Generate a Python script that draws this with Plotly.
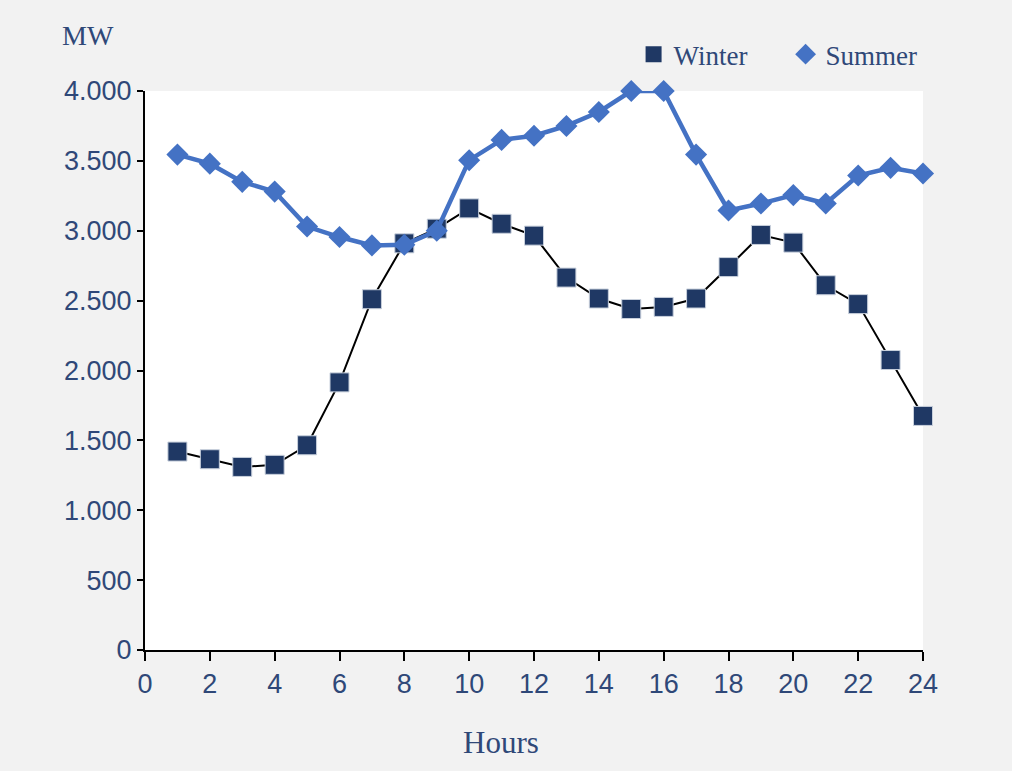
import plotly.graph_objects as go

hours = list(range(1, 25))
winter = [1420, 1365, 1310, 1325, 1465, 1915, 2510, 2910, 3015, 3160, 3050, 2965,
          2665, 2515, 2440, 2455, 2515, 2740, 2970, 2915, 2610, 2475, 2075, 1675]
summer = [3545, 3480, 3350, 3280, 3030, 2955, 2895, 2900, 3000, 3505, 3650, 3680,
          3750, 3850, 4000, 4000, 3545, 3145, 3195, 3255, 3195, 3395, 3450, 3410]

navy = "#1f3864"
blue = "#4472c4"
txt = "#2f4878"
tick_font = dict(family="Liberation Sans Narrow, Arial Narrow, Liberation Sans, sans-serif", size=27, color=txt)
serif = "Liberation Serif, Times New Roman, serif"

fig = go.Figure()
fig.add_trace(go.Scatter(x=hours, y=winter, mode="lines+markers", name="Winter",
                         line=dict(color="black", width=2), cliponaxis=False,
                         marker=dict(symbol="square", size=19, color=navy,
                                     line=dict(color="#c8d0dc", width=1)),
                         showlegend=False))
fig.add_trace(go.Scatter(x=hours, y=summer, mode="lines+markers", name="Summer",
                         line=dict(color=blue, width=4.5), cliponaxis=False,
                         marker=dict(symbol="diamond", size=17, color=blue),
                         showlegend=False))
# legend entries (markers only)
fig.add_trace(go.Scatter(x=[None], y=[None], mode="markers", name="Winter",
                         marker=dict(symbol="square", size=19, color=navy)))
fig.add_trace(go.Scatter(x=[None], y=[None], mode="markers", name="Summer",
                         marker=dict(symbol="diamond", size=17, color=blue)))

fig.update_layout(
    width=1012, height=771,
    margin=dict(l=145, r=89, t=91, b=121),
    paper_bgcolor="#f2f2f2", plot_bgcolor="white",
    separators=",.",
    legend=dict(orientation="h", x=0.628, y=1.065, xanchor="left", yanchor="middle",
                font=dict(family=serif, size=27, color=txt), bgcolor="rgba(0,0,0,0)",
                itemwidth=30, entrywidth=107),
    xaxis=dict(range=[0, 24], dtick=2, tick0=0, showgrid=False, zeroline=False,
               showline=True, linecolor="black", linewidth=2,
               ticks="outside", ticklen=9, tickwidth=2, tickcolor="black",
               tickfont=tick_font),
    yaxis=dict(range=[0, 4000], dtick=500, tick0=0, showgrid=False, zeroline=False,
               showline=True, linecolor="black", linewidth=2,
               ticks="outside", ticklen=6, tickwidth=2, tickcolor="black",
               tickformat=",d", tickfont=tick_font),
    annotations=[
        dict(text="MW", xref="paper", yref="paper", x=-0.073, y=1.1,
             xanchor="center", yanchor="middle", showarrow=False,
             font=dict(family=serif, size=28, color=txt)),
        dict(text="Hours", xref="paper", yref="paper", x=0.458, y=-0.166,
             xanchor="center", yanchor="middle", showarrow=False,
             font=dict(family=serif, size=31, color=txt)),
    ],
)

fig.write_html("out.html", config={"displayModeBar": False},
               post_script="document.body.style.margin='0';document.body.style.background='#f2f2f2';")
